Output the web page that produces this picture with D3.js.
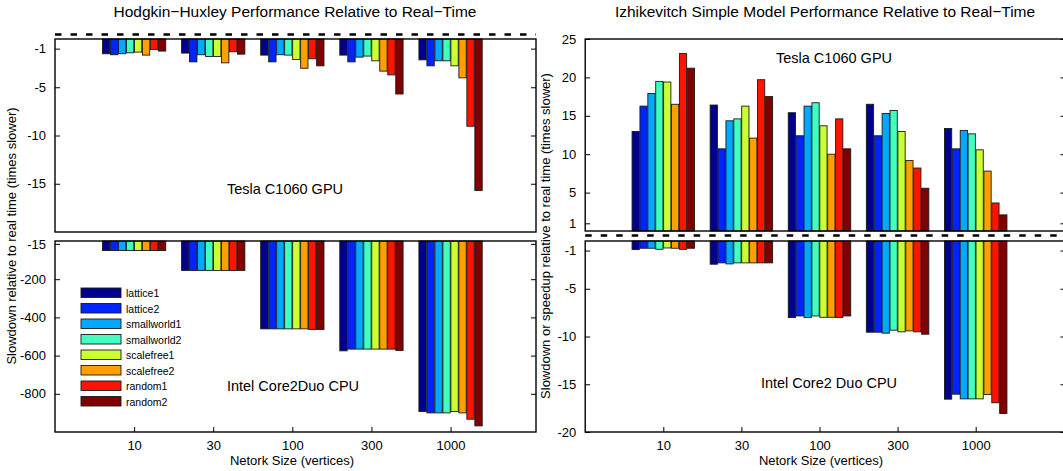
<!DOCTYPE html>
<html><head><meta charset="utf-8">
<script src="https://cdn.jsdelivr.net/npm/d3@7"></script>
<style>
body{margin:0;background:#fff;}
text{font-family:"Liberation Sans",Arial,Helvetica,sans-serif;fill:#000;}
</style></head>
<body><svg id="c" width="1063" height="471"></svg>
<script>
const categories = ["10","30","100","300","1000"];
const series = ["lattice1","lattice2","smallworld1","smallworld2","scalefree1","scalefree2","random1","random2"];
const colors = ["#00008f","#0024ff","#00a8ff","#40ffc0","#ccff33","#ffa000","#ff1400","#800000"];

// Hodgkin-Huxley, Tesla GPU (rows = network size, cols = series)
const hhGpu = [
  [-1.53,-1.63,-1.53,-1.43,-1.36,-1.67,-1.10,-1.25],
  [-1.46,-2.37,-1.63,-1.81,-1.81,-2.47,-1.32,-1.57],
  [-1.67,-2.37,-1.63,-1.67,-2.12,-3.03,-2.05,-2.78],
  [-1.67,-2.37,-1.88,-1.77,-2.26,-3.33,-3.72,-5.70],
  [-2.16,-2.78,-2.26,-2.26,-2.78,-4.03,-9.04,-15.70]
];
// Hodgkin-Huxley, Intel CPU
const hhCpu = [
  [-50,-50,-50,-50,-50,-50,-50,-50],
  [-154,-154,-154,-154,-154,-154,-154,-154],
  [-460,-460,-460,-460,-460,-460,-463,-463],
  [-575,-566,-566,-566,-566,-566,-566,-573],
  [-893,-900,-900,-900,-893,-900,-933,-968]
];
// Izhikevitch, Tesla GPU
const izGpu = [
  [12.96,16.26,17.9,19.48,19.4,16.5,23.1,21.2],
  [16.4,10.7,14.35,14.6,16.26,12.1,19.7,17.5],
  [15.4,12.4,16.26,16.7,13.7,10.0,14.6,10.7],
  [16.5,12.4,15.3,15.7,12.96,9.17,8.2,5.57],
  [13.35,10.7,13.1,12.65,10.57,7.8,3.65,2.1]
];
// Izhikevitch, Intel CPU
const izCpu = [
  [-0.9,-0.76,-0.76,-0.87,-0.73,-0.76,-0.87,-0.76],
  [-2.43,-2.29,-2.40,-2.29,-2.29,-2.29,-2.29,-2.29],
  [-8.02,-7.85,-8.02,-7.85,-7.99,-7.99,-8.02,-7.85],
  [-9.55,-9.55,-9.65,-9.34,-9.51,-9.41,-9.51,-9.76],
  [-16.56,-16.04,-16.53,-16.53,-16.53,-16.08,-16.94,-18.06]
];
const hhGpuTicks = [-1,-5,-10,-15];
const hhCpuTicks = [-15,-200,-400,-600,-800];
const izGpuTicks = [1,5,10,15,20,25];
const izCpuTicks = [-1,-5,-10,-15,-20];

const titles = ["Hodgkin\u2212Huxley Performance Relative to Real\u2212Time",
                "Izhikevitch Simple Model Performance Relative to Real\u2212Time"];
const yLabels = ["Slowdown relative to real time (times slower)",
                 "Slowdown or speedup relative to real time (times slower)"];
const xLabel = "Netork Size (vertices)";

const svg = d3.select("#c");

function panel(x, y0, y1, domain, ticks, data, showX) {
  const y = d3.scaleLinear().domain(domain).range([y1, y0]);
  const inner = d3.scaleBand().domain(series).range([-0.4, 0.4]).paddingInner(0.08);
  const unit = x(1) - x(0);
  const g = svg.append("g");
  data.forEach((row, ci) => {
    row.forEach((v, si) => {
      const cx = x(ci + 1) + inner(series[si]) * unit;
      g.append("rect")
        .attr("x", cx).attr("width", inner.bandwidth() * unit)
        .attr("y", Math.min(y(0), y(v))).attr("height", Math.abs(y(v) - y(0)))
        .attr("fill", colors[si]).attr("stroke", "#1a1a1a").attr("stroke-width", 0.9);
    });
  });
  const [xa, xb] = x.range();
  const la = svg.append("g").attr("transform", `translate(${xa},0)`)
    .call(d3.axisLeft(y).tickValues(ticks).tickSize(-5).tickPadding(9).tickFormat(d => String(d)));
  la.select(".domain").remove();
  la.selectAll("text").attr("font-size", 13).attr("font-family", "Liberation Sans, Arial");
  la.selectAll("line").attr("stroke", "#000");
  const ra = svg.append("g").attr("transform", `translate(${xb},0)`)
    .call(d3.axisRight(y).tickValues(ticks).tickSize(-5).tickFormat(""));
  ra.select(".domain").remove();
  if (showX) {
    const ba = svg.append("g").attr("transform", `translate(0,${y1})`)
      .call(d3.axisBottom(x).tickValues([1,2,3,4,5]).tickSize(-5).tickPadding(9)
        .tickFormat((d, i) => categories[i]));
    ba.select(".domain").remove();
    ba.selectAll("text").attr("font-size", 13).attr("font-family", "Liberation Sans, Arial");
  }
  svg.append("rect").attr("x", xa).attr("y", y0).attr("width", xb - xa).attr("height", y1 - y0)
    .attr("fill", "none").attr("stroke", "#000").attr("stroke-width", 1.4);
  return y;
}

function dashed(x, yy) {
  const [xa, xb] = x.range();
  svg.append("line").attr("x1", xa).attr("x2", Math.min(xb, 1063)).attr("y1", yy).attr("y2", yy)
    .attr("stroke", "#000").attr("stroke-width", 2.6).attr("stroke-dasharray", "6.5,9");
}

function label(txt, x, y, size, rot) {
  const t = svg.append("text").text(txt).attr("font-size", size).attr("text-anchor", "middle");
  if (rot) t.attr("transform", `translate(${x},${y}) rotate(-90)`);
  else t.attr("x", x).attr("y", y);
  return t;
}

// Left chart
const xL = d3.scaleLinear().domain([0, 6.08]).range([55, 536]);
panel(xL, 39, 232, [-20, 0], hhGpuTicks, hhGpu, false);
panel(xL, 241, 432, [-1000, 0], hhCpuTicks, hhCpu, true);
dashed(xL, 34.5);
label(titles[0], 295, 17, 15.5);
label(xLabel, 292, 465, 13);
label(yLabels[0], 16, 236, 13, true);
label("Tesla C1060 GPU", 285, 194, 14.5);
label("Intel Core2Duo CPU", 293, 391, 14.5);

// Legend
const ly = d3.scaleBand().domain(series).range([288, 412]);
series.forEach((s, i) => {
  svg.append("rect").attr("x", 81).attr("y", ly(s)).attr("width", 40).attr("height", 9.5)
    .attr("fill", colors[i]).attr("stroke", "#1a1a1a").attr("stroke-width", 0.9);
  svg.append("text").text(s).attr("x", 126).attr("y", ly(s) + 9).attr("font-size", 10.5);
});

// Right chart
const xR = d3.scaleLinear().domain([0, 6.15]).range([585.2, 1065.5]);
panel(xR, 39, 231, [0, 25], izGpuTicks, izGpu, false);
panel(xR, 241, 432, [-20, 0], izCpuTicks, izCpu, true);
dashed(xR, 235.5);
label(titles[1], 825, 17, 15.5);
label(xLabel, 821, 465, 13);
label(yLabels[1], 550, 236, 13, true);
label("Tesla C1060 GPU", 834, 63, 14.5);
label("Intel Core2 Duo CPU", 829, 388, 14.5);
</script></body></html>
